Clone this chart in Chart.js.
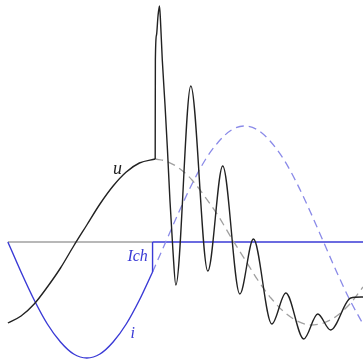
<!DOCTYPE html>
<html>
<head>
<meta charset="utf-8">
<script src="https://cdn.jsdelivr.net/npm/chart.js@4.4.1/dist/chart.umd.min.js"></script>
<style>
  html, body { margin: 0; padding: 0; background: #fff; }
  #wrap { width: 363px; height: 363px; }
</style>
</head>
<body>
<div id="wrap"><canvas id="chart" width="363" height="363"></canvas></div>
<script>
// === Data (x in electrical degrees, y in relative units) ===
// current i before the chop
const iDeg   = [0, 15, 30, 45, 60, 75, 90, 105, 120, 135, 150, 165];
const iVals  = [0, -0.30, -0.58, -0.82, -1.00, -1.12, -1.16, -1.12, -1.00, -0.82, -0.58, -0.30];

// prospective current (dashed) after the chop
const iDashDeg  = [165, 180, 195, 210, 225, 240, 255, 270, 285, 300, 315, 330, 345, 360, 375, 390, 405];
const iDashVals = [-0.30, 0, 0.30, 0.58, 0.82, 1.00, 1.12, 1.16, 1.12, 1.00, 0.82, 0.58, 0.30, 0, -0.30, -0.58, -0.82];

// chopped current step Ich
const ichDeg  = [165, 165];
const ichVals = [-0.30, 0];

// voltage u before the chop
const uDeg  = [0, 15, 30, 45, 60, 75, 90, 105, 120, 135, 150, 168];
const uVals = [-0.81, -0.74, -0.62, -0.45, -0.26, -0.04, 0.17, 0.38, 0.56, 0.70, 0.79, 0.83];

// source voltage (dashed) after the chop
const uDashDeg  = [168, 180, 195, 210, 225, 240, 255, 270, 285, 300, 315, 330, 345, 360, 375, 390, 405];
const uDashVals = [0.83, 0.81, 0.74, 0.62, 0.45, 0.26, 0.04, -0.17, -0.38, -0.56, -0.70, -0.79, -0.83, -0.81, -0.74, -0.62, -0.45];

// recovery voltage oscillation
const oscDeg  = [168, 168.2, 169.5, 171.2, 172.9, 174.0, 176.1, 179.2, 182.0, 184.8, 188.2, 191.5,
                 208.6, 228, 245, 264.5, 280, 301, 317, 337.4, 353.4, 368, 391, 405];
const oscVals = [0.83, 1.82, 2.07, 2.26, 2.36, 2.22, 1.82, 1.37, 0.92, 0.42, -0.08, -0.43,
                 1.56, -0.29, 0.76, -0.52, 0.03, -0.82, -0.51, -0.97, -0.72, -0.88, -0.56, -0.55];

// zero line split
const axisGrayDeg = [0, 165];
const axisBlueDeg = [165, 405];

// text labels
const labelText = ['u', 'Ich', 'i'];
const labelDeg  = [125, 148, 142.5];
const labelVals = [0.73, -0.15, -0.92];
const labelColors = ['#222222', '#3a3ad6', '#3a3ad6'];

// === Helpers ===
const pts = (xs, ys) => xs.map((x, k) => ({ x, y: ys[k] }));

const BLACK = '#222222';
const BLUE = '#3a3ad6';
const BLUE_LIGHT = '#8a8ae8';
const GRAY = '#a0a0a0';

const labelPlugin = {
  id: 'labels',
  afterDatasetsDraw(chart) {
    const { ctx, scales: { x, y } } = chart;
    ctx.save();
    ctx.textAlign = 'center';
    ctx.textBaseline = 'middle';
    labelText.forEach((t, k) => {
      ctx.font = k === 0 ? 'italic 18px "Liberation Serif"' : 'italic 16px "Liberation Serif"';
      ctx.fillStyle = labelColors[k];
      ctx.fillText(t, x.getPixelForValue(labelDeg[k]), y.getPixelForValue(labelVals[k]));
    });
    ctx.restore();
  }
};

const line = (data, color, width, extra = {}) => Object.assign({
  data,
  borderColor: color,
  borderWidth: width,
  pointRadius: 0,
  fill: false,
  tension: 0
}, extra);

new Chart(document.getElementById('chart').getContext('2d'), {
  type: 'line',
  data: {
    datasets: [
      line(pts(oscDeg, oscVals), BLACK, 1.4, { cubicInterpolationMode: 'monotone' }),
      line(pts(uDeg, uVals), BLACK, 1.4, { cubicInterpolationMode: 'monotone' }),
      line(pts(iDeg, iVals), BLUE, 1.4, { cubicInterpolationMode: 'monotone' }),
      line(pts(ichDeg, ichVals), BLUE, 1.4),
      line(pts(uDashDeg, uDashVals), GRAY, 1.3, { cubicInterpolationMode: 'monotone', borderDash: [8, 5] }),
      line(pts(iDashDeg, iDashVals), BLUE_LIGHT, 1.3, { cubicInterpolationMode: 'monotone', borderDash: [8, 5] }),
      line(pts(axisBlueDeg, [0, 0]), BLUE, 1.6),
      line(pts(axisGrayDeg, [0, 0]), GRAY, 1.6)
    ]
  },
  options: {
    responsive: false,
    animation: false,
    layout: { padding: 0 },
    scales: {
      x: { type: 'linear', min: -9, max: 405, display: false },
      y: { type: 'linear', min: -1.21, max: 2.42, display: false }
    },
    plugins: {
      legend: { display: false },
      tooltip: { enabled: false }
    }
  },
  plugins: [labelPlugin]
});
</script>
</body>
</html>
